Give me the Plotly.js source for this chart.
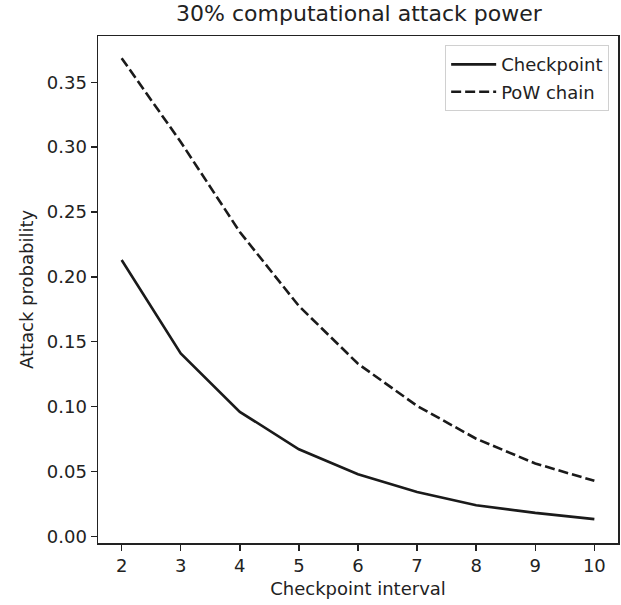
<!DOCTYPE html>
<html>
<head>
<meta charset="utf-8">
<script src="https://cdn.plot.ly/plotly-3.0.1.min.js"></script>
<style>html,body{margin:0;padding:0;background:#fff;}#chart{width:621px;height:605px;}</style>
</head>
<body>
<div id="chart"></div>
<script>
const intervals = [2, 3, 4, 5, 6, 7, 8, 9, 10];
const checkpoint = [0.213, 0.141, 0.0959, 0.0671, 0.0478, 0.0342, 0.0239, 0.018, 0.0132];
const powChain = [0.3686, 0.304, 0.2346, 0.1775, 0.1330, 0.1005, 0.0752, 0.0561, 0.0427];
const yTicks = [0, 0.05, 0.1, 0.15, 0.2, 0.25, 0.3, 0.35];
const yTickText = ["0.00", "0.05", "0.10", "0.15", "0.20", "0.25", "0.30", "0.35"];

const font = {family: "DejaVu Sans", size: 18, color: "#222"};
const traces = [
  {x: intervals, y: checkpoint, type: "scatter", mode: "lines", name: "Checkpoint",
   legendgroup: "a", line: {color: "#1a1a1a", width: 2.6}},
  {x: intervals, y: powChain, type: "scatter", mode: "lines", name: "PoW chain",
   legendgroup: "b", line: {color: "#1a1a1a", width: 2.6, dash: "10px,4px"}}
];
const axisCommon = {
  showline: true, linecolor: "#222", linewidth: 1.5, mirror: true,
  ticks: "outside", ticklen: 6, tickwidth: 1.5, tickcolor: "#222",
  showgrid: false, zeroline: false, tickfont: font
};
const layout = {
  width: 621, height: 605,
  margin: {l: 98, r: 3, t: 36, b: 62},
  paper_bgcolor: "#fff", plot_bgcolor: "#fff",
  font: font,
  title: {text: "30% computational attack power", font: {family: "DejaVu Sans", size: 22, color: "#222"},
          x: 0.578, xanchor: "center", y: 0.978, yanchor: "middle"},
  xaxis: Object.assign({}, axisCommon, {
    range: [1.6, 10.4], tickvals: intervals, ticktext: intervals.map(String),
    title: {text: "Checkpoint interval", font: font, standoff: 7}
  }),
  yaxis: Object.assign({}, axisCommon, {
    range: [-0.0052, 0.3857], tickvals: yTicks, ticktext: yTickText,
    title: {text: "Attack probability", font: font, standoff: 8}
  }),
  showlegend: true,
  legend: {x: 0.983, xanchor: "right", y: 0.982, yanchor: "top",
           bgcolor: "rgba(255,255,255,0.8)", bordercolor: "#d0d0d0", borderwidth: 1,
           font: font, tracegroupgap: 1, traceorder: "grouped", itemwidth: 45}
};
Plotly.newPlot("chart", traces, layout, {displayModeBar: false, staticPlot: true});
</script>
</body>
</html>
